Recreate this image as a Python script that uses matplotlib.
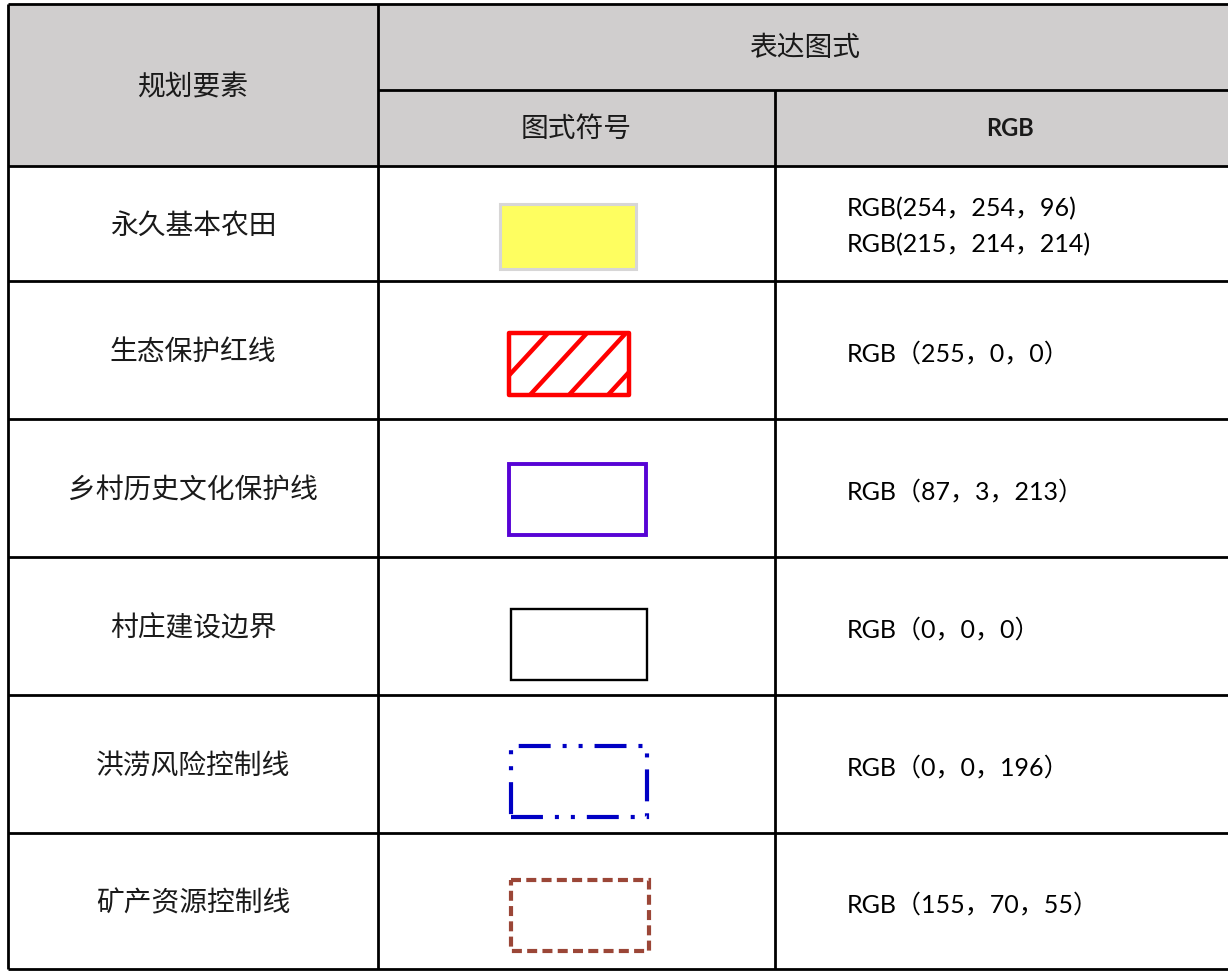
import numpy as np
import matplotlib
matplotlib.use("Agg")
import matplotlib.pyplot as plt
from matplotlib.patches import Rectangle

plt.rcParams['lines.scale_dashes'] = False

# table content
elements = ['永久基本农田', '生态保护红线', '乡村历史文化保护线',
            '村庄建设边界', '洪涝风险控制线', '矿产资源控制线']
rgb_labels = ['RGB(254，254，96)\nRGB(215，214，214)', 'RGB（255，0，0）',
              'RGB（87，3，213）', 'RGB（0，0，0）', 'RGB（0，0，196）',
              'RGB（155，70，55）']
symbol_rgb = [(254, 254, 96), (255, 0, 0), (87, 3, 213),
              (0, 0, 0), (0, 0, 196), (155, 70, 55)]
yellow_edge_rgb = (215, 214, 214)
header_main = '规划要素'
header_group = '表达图式'
header_sub = ['图式符号', 'RGB']

# layout (pixels)
W, H = 1228, 971
col_edges = [8, 378, 775, 1228]
row_edges = [166, 281, 419, 557, 695, 833, 969]
top_y, sub_y = 4, 90
boxes = [(500, 204, 636, 269), (509, 333, 629, 395), (509, 464, 646, 535),
         (511, 609, 647, 680), (511, 746, 647, 817), (511, 880, 649, 951)]

CJK = ['Noto Sans CJK SC', 'DejaVu Sans']
LAT = ['Lato', 'Noto Sans CJK SC']
TXT = '#1a1a1a'


def c(rgb):
    return tuple(v / 255 for v in rgb)


fig = plt.figure(figsize=(W / 100, H / 100), dpi=100)
ax = fig.add_axes([0, 0, 1, 1])
ax.set_xlim(0, W)
ax.set_ylim(H, 0)
ax.axis('off')

# header background
ax.add_patch(Rectangle((col_edges[0], top_y), W - col_edges[0], row_edges[0] - top_y,
                       facecolor=c((208, 206, 206)), edgecolor='none', zorder=0))

# grid lines
lw = 2.0
ax.hlines([top_y] + row_edges, col_edges[0], W, color='black', lw=lw)
ax.hlines(sub_y, col_edges[1], W, color='black', lw=lw)
ax.vlines(col_edges[0], top_y, row_edges[-1], color='black', lw=lw)
ax.vlines(col_edges[1], top_y, row_edges[-1], color='black', lw=lw)
ax.vlines(col_edges[2], sub_y, row_edges[-1], color='black', lw=lw)

# header texts
ax.text((col_edges[0] + col_edges[1]) / 2, 87, header_main, family=CJK, fontsize=20,
        color=TXT, ha='center', va='center')
ax.text(805, 48, header_group, family=CJK, fontsize=20, color=TXT,
        ha='center', va='center')
ax.text((col_edges[1] + col_edges[2]) / 2, 129, header_sub[0], family=CJK, fontsize=20,
        color=TXT, ha='center', va='center')
ax.text(1010, 129, header_sub[1], family=LAT, fontsize=17, color=TXT,
        ha='center', va='center', weight='bold')

# body rows
for i, name in enumerate(elements):
    yc = (row_edges[i] + row_edges[i + 1]) / 2
    ax.text((col_edges[0] + col_edges[1]) / 2, yc + 2, name, family=CJK, fontsize=20,
            color=TXT, ha='center', va='center')
    lines = rgb_labels[i].split('\n')
    for j, ln in enumerate(lines):
        dy = (j - (len(lines) - 1) / 2) * 36
        ax.text(847, yc + 3 + dy, ln, family=LAT, fontsize=18, color='black',
                ha='left', va='center')

# symbols
x0, y0, x1, y1 = boxes[0]
ax.add_patch(Rectangle((x0, y0), x1 - x0, y1 - y0, facecolor=c(symbol_rgb[0]),
                       edgecolor=c(yellow_edge_rgb), lw=2.2))

x0, y0, x1, y1 = boxes[1]
red_box = Rectangle((x0, y0), x1 - x0, y1 - y0, facecolor='none',
                    edgecolor=c(symbol_rgb[1]), lw=3.2, joinstyle='round')
ax.add_patch(red_box)
step, slope = 39, 0.92
for k in range(1, 5):
    xt = x0 + k * step
    ln, = ax.plot([xt, xt - (y1 - y0) * slope], [y0, y1], color=c(symbol_rgb[1]),
                  lw=3.2, solid_capstyle='butt')
    ln.set_clip_path(red_box)

x0, y0, x1, y1 = boxes[2]
ax.add_patch(Rectangle((x0, y0), x1 - x0, y1 - y0, facecolor='none',
                       edgecolor=c(symbol_rgb[2]), lw=2.8))

x0, y0, x1, y1 = boxes[3]
ax.add_patch(Rectangle((x0, y0), x1 - x0, y1 - y0, facecolor='none',
                       edgecolor=c(symbol_rgb[3]), lw=1.7))

# dash-dot-dot line, drawn from bottom-left counter-clockwise
x0, y0, x1, y1 = boxes[4]
ax.add_patch(Rectangle((x0, y1), x1 - x0, -(y1 - y0), facecolor='none',
                       edgecolor=c(symbol_rgb[4]), lw=3.0, capstyle='butt',
                       linestyle=(0, (23, 8.6, 2.9, 8.6, 2.9, 8.6))))

x0, y0, x1, y1 = boxes[5]
ax.add_patch(Rectangle((x0, y0), x1 - x0, y1 - y0, facecolor='none',
                       edgecolor=c(symbol_rgb[5]), lw=3.0, capstyle='butt',
                       linestyle=(0, (7.2, 3.8))))

fig.savefig('out.png', dpi=100, facecolor='white')
